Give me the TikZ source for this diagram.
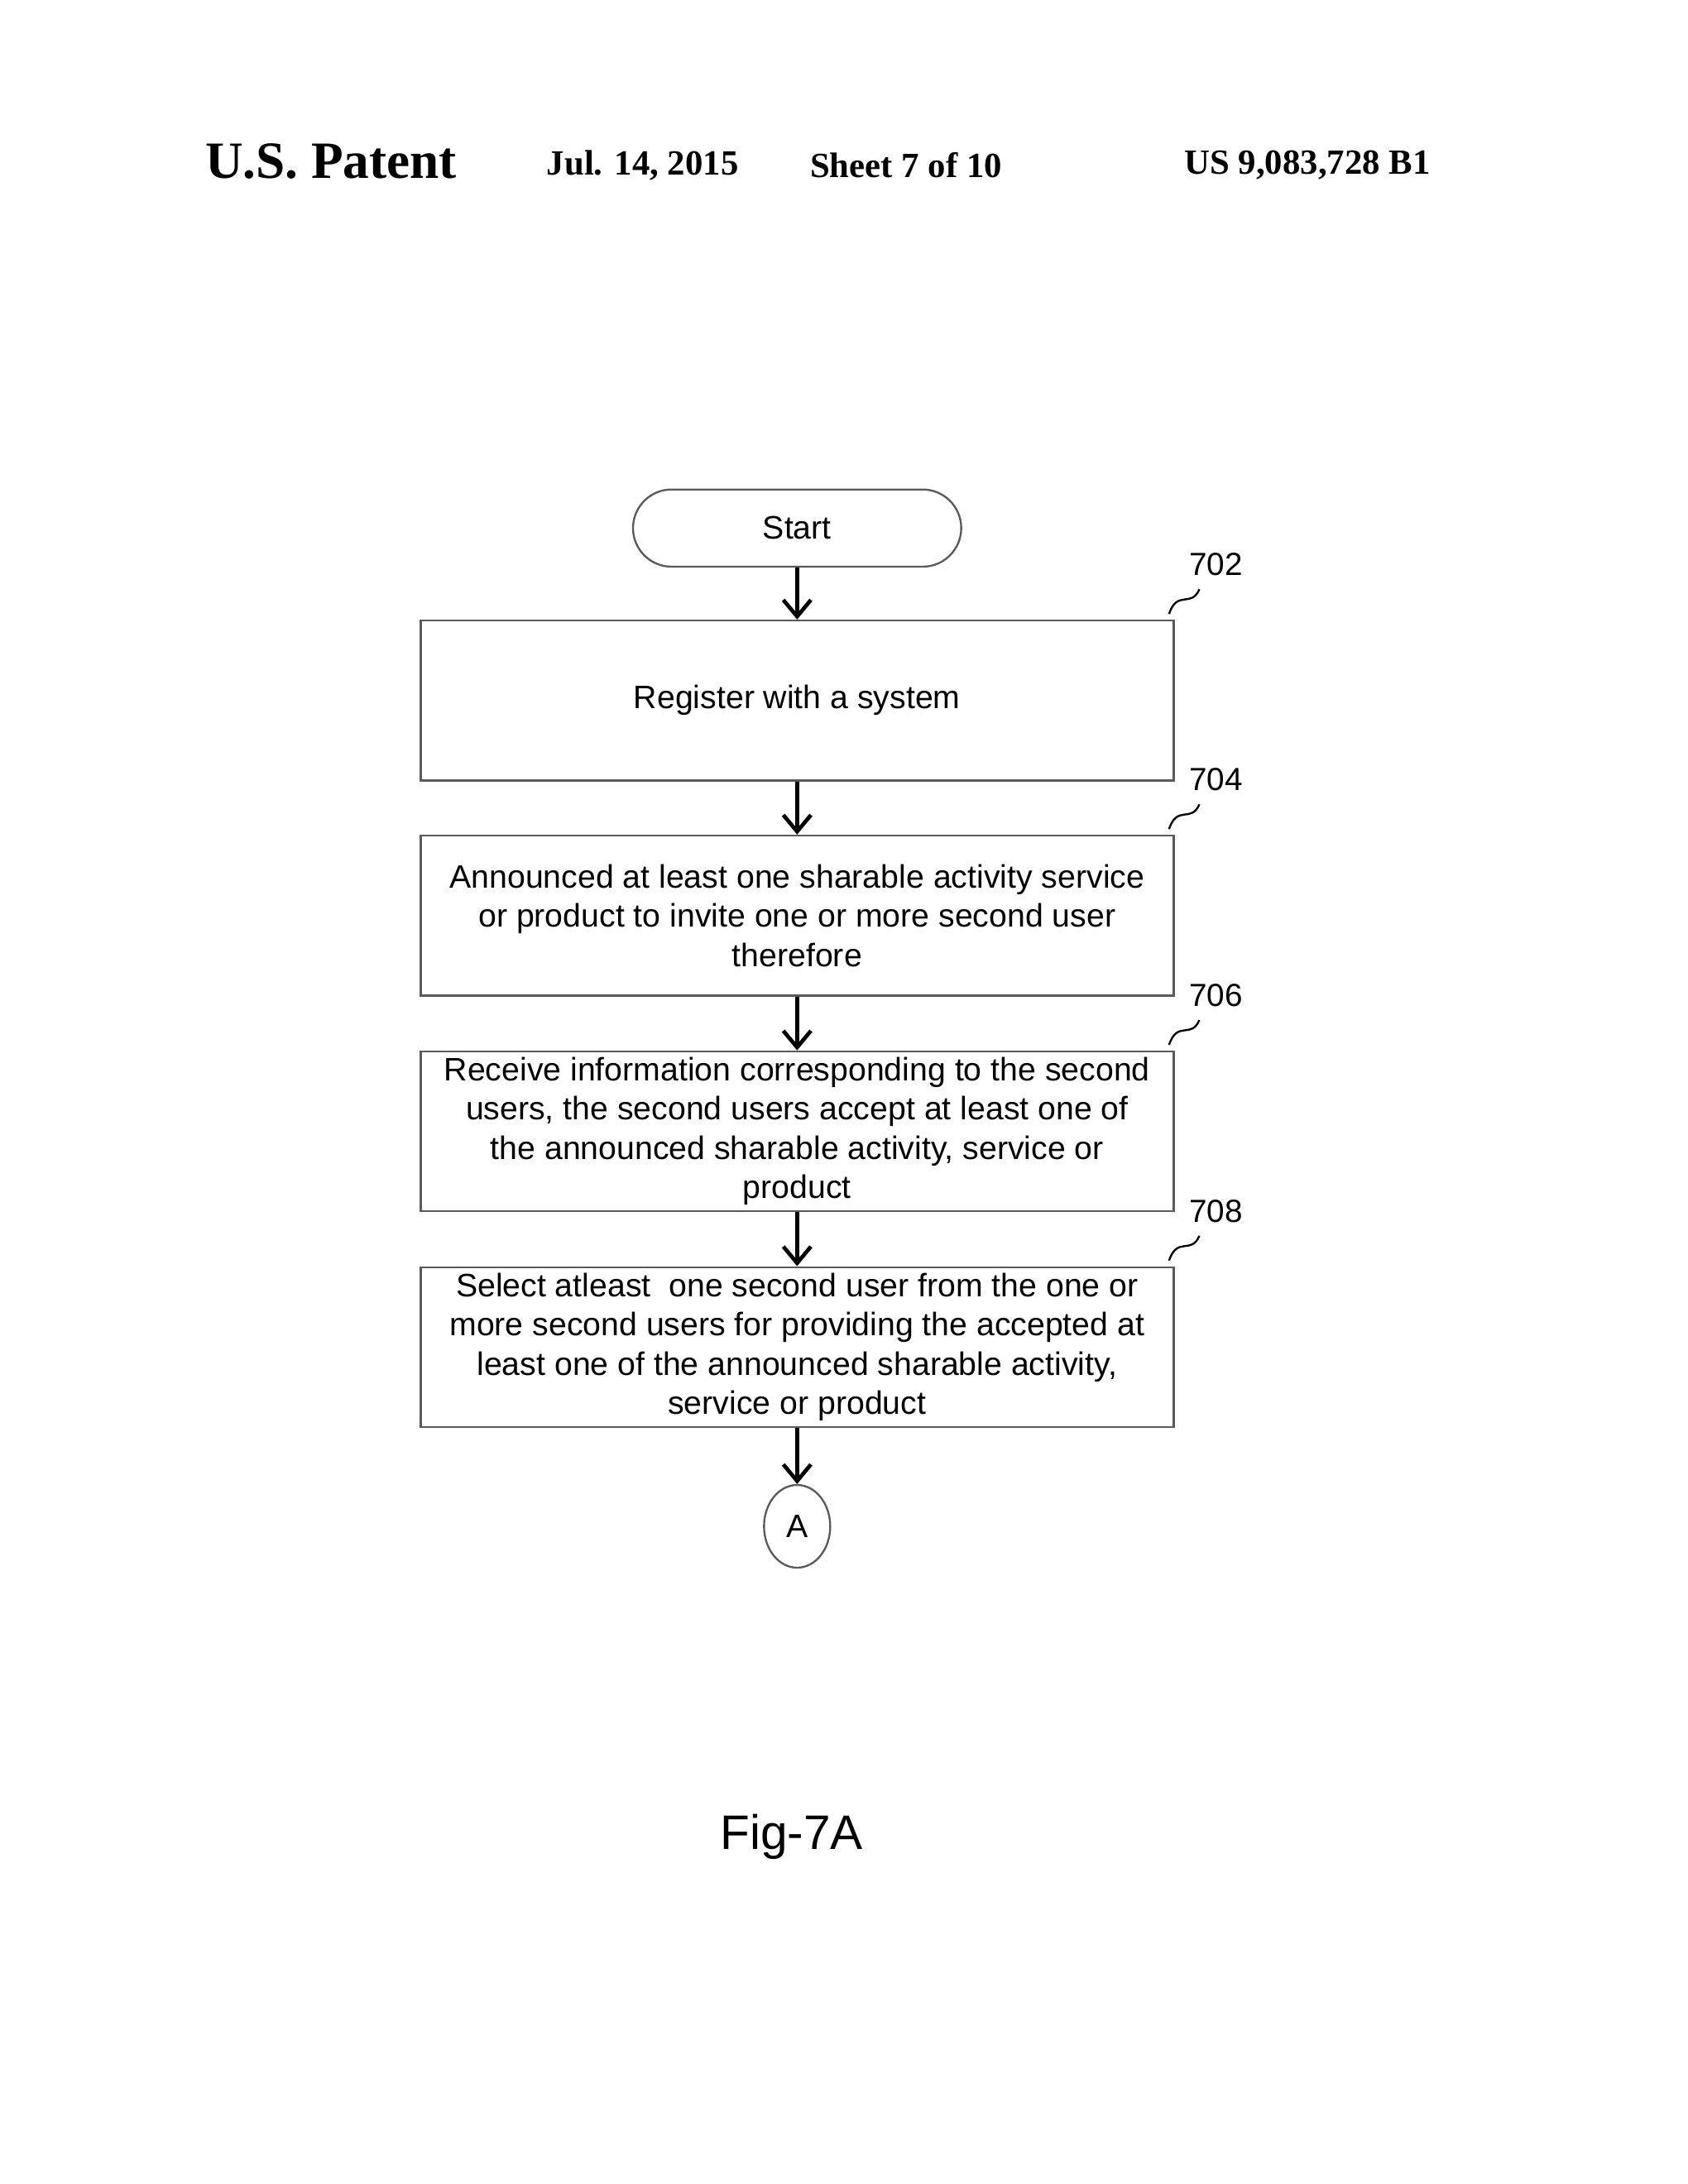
\documentclass[tikz,border=0pt]{standalone}
\usepackage{fontspec}
\setmainfont{Liberation Sans}
\newfontfamily\headfont{Liberation Serif}
\usetikzlibrary{shapes,arrows,positioning,calc,arrows.meta}
\definecolor{boxgray}{RGB}{90,90,90}

\begin{document}
\begin{tikzpicture}[>={Straight Barb[length=1.2mm,width=2mm]},
    flowbox/.style={draw=boxgray, thin, minimum width=5.46cm, minimum height=1.16cm,
        align=center, font=\fontsize{6.7}{8.1}\selectfont, inner sep=0pt},
    refnum/.style={font=\fontsize{6.6}{7.9}\selectfont},
    flow/.style={->, thick}]
    \useasboundingbox (0,0) rectangle (12.24,-15.84);

    % Header
    \node[font=\headfont\bfseries\fontsize{10.8}{13}\selectfont] at (2.40,-1.17) {U.S. Patent};
    \node[font=\headfont\bfseries\fontsize{7.3}{9}\selectfont] at (4.66,-1.20) {Jul. 14, 2015};
    \node[font=\headfont\bfseries\fontsize{7.3}{9}\selectfont] at (6.57,-1.20) {Sheet 7 of 10};
    \node[font=\headfont\bfseries\fontsize{7.3}{9}\selectfont] at (9.48,-1.20) {US 9,083,728 B1};

    % Flow
    \node[draw=boxgray, thin, rounded corners=0.28cm, minimum width=2.38cm, minimum height=0.56cm,
        font=\fontsize{6.7}{8.1}\selectfont] (start) at (5.78,-3.83) {Start};
    \node[flowbox] (s702) at (5.78,-5.08) {Register with a system};
    \node[flowbox] (s704) at (5.78,-6.64) {Announced at least one sharable activity service\\or product to invite one or more second user\\therefore};
    \node[flowbox] (s706) at (5.78,-8.205) {Receive information corresponding to the second\\users, the second users accept at least one of\\the announced sharable activity, service or\\product};
    \node[flowbox] (s708) at (5.78,-9.77) {Select atleast\ \ one second user from the one or\\more second users for providing the accepted at\\least one of the announced sharable activity,\\service or product};
    \node[draw=boxgray, thin, ellipse, minimum width=0.48cm, minimum height=0.60cm, inner sep=0pt,
        font=\fontsize{6.7}{8.1}\selectfont] (conA) at (5.78,-11.07) {A};

    \draw[flow] (start) -- (s702);
    \draw[flow] (s702) -- (s704);
    \draw[flow] (s704) -- (s706);
    \draw[flow] (s706) -- (s708);
    \draw[flow] (s708) -- (conA);

    % Reference numerals
    \foreach \b/\num in {s702/702, s704/704, s706/706, s708/708} {
        \node[refnum] (n\num) at ($(\b.north east)+(0.30,0.40)$) {\num};
        \draw[thin] ($(\b.north east)+(-0.04,0.04)$) .. controls ($(\b.north east)+(0.02,0.22)$) and ($(\b.north east)+(0.12,0.08)$) .. ($(\b.north east)+(0.18,0.22)$);
    }

    \node[font=\fontsize{10}{12}\selectfont] (fig) at (5.74,-13.32) {Fig-7A};
\end{tikzpicture}
\end{document}
